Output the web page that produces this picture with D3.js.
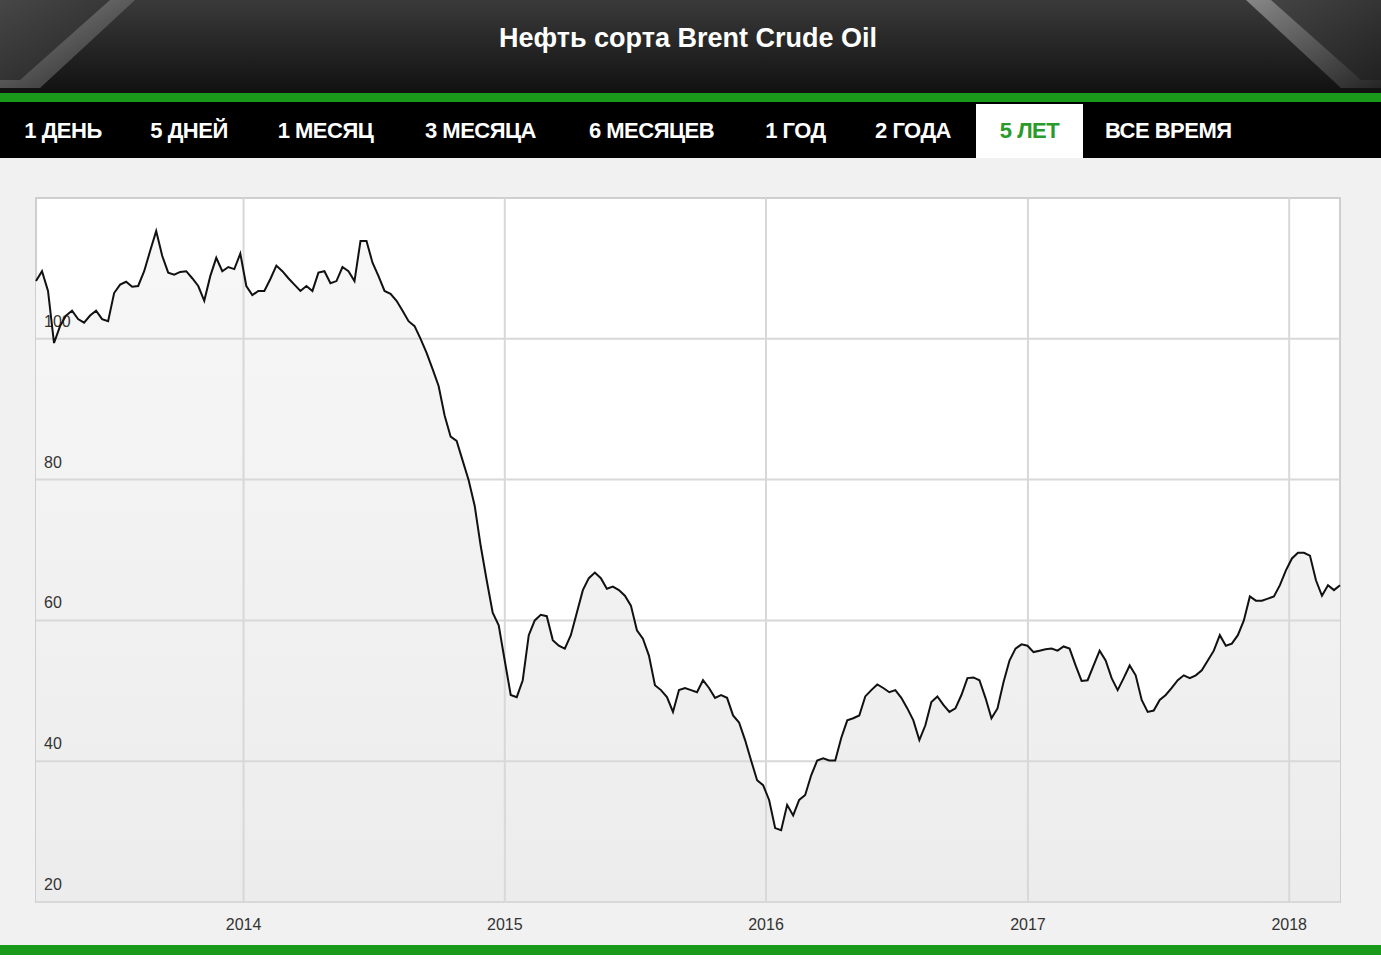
<!DOCTYPE html>
<html><head><meta charset="utf-8">
<script src="https://cdn.jsdelivr.net/npm/d3@7"></script>
<style>body{margin:0;background:#fff;font-family:Arial,"Liberation Sans",sans-serif}</style>
</head><body><svg id="c" width="1381" height="960"></svg>
<script>
const title = "Нефть сорта Brent Crude Oil";
const tabs = ["1 ДЕНЬ","5 ДНЕЙ","1 МЕСЯЦ","3 МЕСЯЦА","6 МЕСЯЦЕВ","1 ГОД","2 ГОДА","5 ЛЕТ","ВСЕ ВРЕМЯ"];
const activeTab = "5 ЛЕТ";
const yTicks = [20,40,60,80,100];
const xTicks = ["2014","2015","2016","2017","2018"];
const startDate = "2013-03-17", endDate = "2018-03-13";
const prices = [108.2,109.6,106.8,99.4,101.8,103.3,104.0,102.8,102.3,103.3,104.0,102.8,102.5,106.5,107.7,108.1,107.4,107.5,109.6,112.5,115.3,111.8,109.4,109.1,109.5,109.6,108.6,107.5,105.4,108.9,111.5,109.6,110.2,109.9,112.1,107.5,106.2,106.8,106.8,108.5,110.4,109.6,108.6,107.7,106.8,107.5,106.8,109.4,109.6,107.9,108.2,110.2,109.6,108.2,113.9,113.9,110.8,108.9,106.8,106.4,105.4,104.0,102.5,101.8,100.0,98.0,95.7,93.3,89.1,86.1,85.5,82.7,79.9,76.3,70.6,65.7,61.1,59.3,54.3,49.4,49.1,51.5,57.9,60.0,60.8,60.6,57.2,56.4,56.0,57.9,61.1,64.3,66.0,66.8,66.0,64.5,64.8,64.3,63.5,62.1,58.6,57.4,55.0,50.8,50.1,49.1,47.0,50.1,50.4,50.1,49.8,51.5,50.4,49.0,49.4,49.0,46.5,45.5,43.0,40.1,37.3,36.6,34.5,30.5,30.2,33.8,32.3,34.5,35.2,38.0,40.1,40.4,40.1,40.1,43.3,45.8,46.1,46.5,49.2,50.1,50.9,50.4,49.8,50.1,49.0,47.5,45.8,43.0,45.1,48.4,49.2,48.0,47.0,47.5,49.4,51.8,51.9,51.5,49.0,46.1,47.5,51.2,54.3,56.0,56.6,56.4,55.5,55.7,55.9,56.0,55.7,56.3,56.0,53.6,51.4,51.5,53.6,55.7,54.3,51.8,50.1,51.8,53.6,52.2,48.7,47.0,47.2,48.7,49.4,50.4,51.5,52.2,51.8,52.2,52.9,54.3,55.7,57.9,56.4,56.7,57.9,60.0,63.4,62.8,62.8,63.1,63.4,65.0,67.1,68.8,69.6,69.6,69.2,65.7,63.5,65.0,64.3,65.0];

const svg = d3.select("#c");
const defs = svg.append("defs");
const hg = defs.append("linearGradient").attr("id","hg").attr("x1",0).attr("y1",0).attr("x2",0).attr("y2",1);
hg.append("stop").attr("offset",0).attr("stop-color","#3a3a3a");
hg.append("stop").attr("offset",1).attr("stop-color","#111");
const cg = defs.append("linearGradient").attr("id","cg").attr("x1",0).attr("y1",0).attr("x2",1).attr("y2",1);
cg.append("stop").attr("offset",0).attr("stop-color","#9a9a9a");
cg.append("stop").attr("offset",1).attr("stop-color","#2a2a2a");
const ag = defs.append("linearGradient").attr("id","ag").attr("x1",0).attr("y1",0).attr("x2",0).attr("y2",1);
ag.append("stop").attr("offset",0).attr("stop-color","#f7f7f7");
ag.append("stop").attr("offset",1).attr("stop-color","#ececec");

// header
svg.append("rect").attr("x",0).attr("y",0).attr("width",1381).attr("height",93).attr("fill","url(#hg)");
svg.append("path").attr("d","M0,0 L135,0 L40,88 L0,88 Z").attr("fill","url(#cg)").attr("opacity",0.8);
svg.append("path").attr("d","M0,0 L110,0 L20,80 L0,80 Z").attr("fill","#1c1c1c").attr("opacity",0.6);
svg.append("path").attr("d","M1381,0 L1246,0 L1341,88 L1381,88 Z").attr("fill","url(#cg)").attr("opacity",0.8);
svg.append("path").attr("d","M1381,0 L1271,0 L1361,80 L1381,80 Z").attr("fill","#1c1c1c").attr("opacity",0.6);
svg.append("text").attr("x",688).attr("y",47).attr("text-anchor","middle").attr("fill","#fff")
  .attr("font-size",27).attr("font-weight","bold").text(title);
svg.append("rect").attr("x",0).attr("y",93).attr("width",1381).attr("height",9).attr("fill","#1a9a1a");
svg.append("rect").attr("x",0).attr("y",102).attr("width",1381).attr("height",56).attr("fill","#000");
// tabs
const tabX = [0,126,252,399,562,741,850,976,1083,1262];
tabs.forEach((t,i)=>{
  const x0=tabX[i], x1=tabX[i+1];
  const act = t===activeTab;
  if(act) svg.append("rect").attr("x",x0).attr("y",104).attr("width",x1-x0).attr("height",54).attr("fill","#fff");
  svg.append("text").attr("x",i===8?1105:(x0+x1)/2).attr("y",138).attr("text-anchor",i===8?"start":"middle")
    .attr("fill",act?"#2a9a2a":"#fff").attr("font-size",22).attr("font-weight","bold").attr("letter-spacing",-0.5).text(t);
});
// panel
svg.append("rect").attr("x",0).attr("y",158).attr("width",1381).attr("height",787).attr("fill","#f1f1f1");
svg.append("rect").attr("x",0).attr("y",945).attr("width",1381).attr("height",10).attr("fill","#1a9a1a");

const L=36,R=1340,T=198,B=902;
const x = d3.scaleTime().domain([new Date(startDate),new Date(endDate)]).range([L,R]);
const y = d3.scaleLinear().domain([20,120]).range([B,T]);
svg.append("rect").attr("x",L).attr("y",T).attr("width",R-L).attr("height",B-T).attr("fill","#fff").attr("stroke","#cfcfcf").attr("stroke-width",2);

const t0=+new Date(startDate), t1=+new Date(endDate);
const data = prices.map((p,i)=>({d:new Date(t0+(t1-t0)*i/(prices.length-1)), v:p}));

svg.append("path").datum(data).attr("fill","url(#ag)")
  .attr("d",d3.area().x(d=>x(d.d)).y0(B).y1(d=>y(d.v)));

const g = svg.append("g");
yTicks.forEach(v=>{
  g.append("line").attr("x1",L).attr("x2",R).attr("y1",y(v)).attr("y2",y(v)).attr("stroke","#d8d8d8").attr("stroke-width",2);
  g.append("text").attr("x",44).attr("y",y(v)-12).attr("font-size",16).attr("fill","#333").text(v);
});
xTicks.forEach(s=>{
  const xx = x(new Date(s+"-01-01"));
  g.append("line").attr("x1",xx).attr("x2",xx).attr("y1",T).attr("y2",B).attr("stroke","#d8d8d8").attr("stroke-width",2);
  g.append("text").attr("x",xx).attr("y",930).attr("text-anchor","middle").attr("font-size",16).attr("fill","#333").text(s);
});

svg.append("path").datum(data).attr("fill","none").attr("stroke","#111").attr("stroke-width",2)
  .attr("d",d3.line().x(d=>x(d.d)).y(d=>y(d.v)));
</script></body></html>
